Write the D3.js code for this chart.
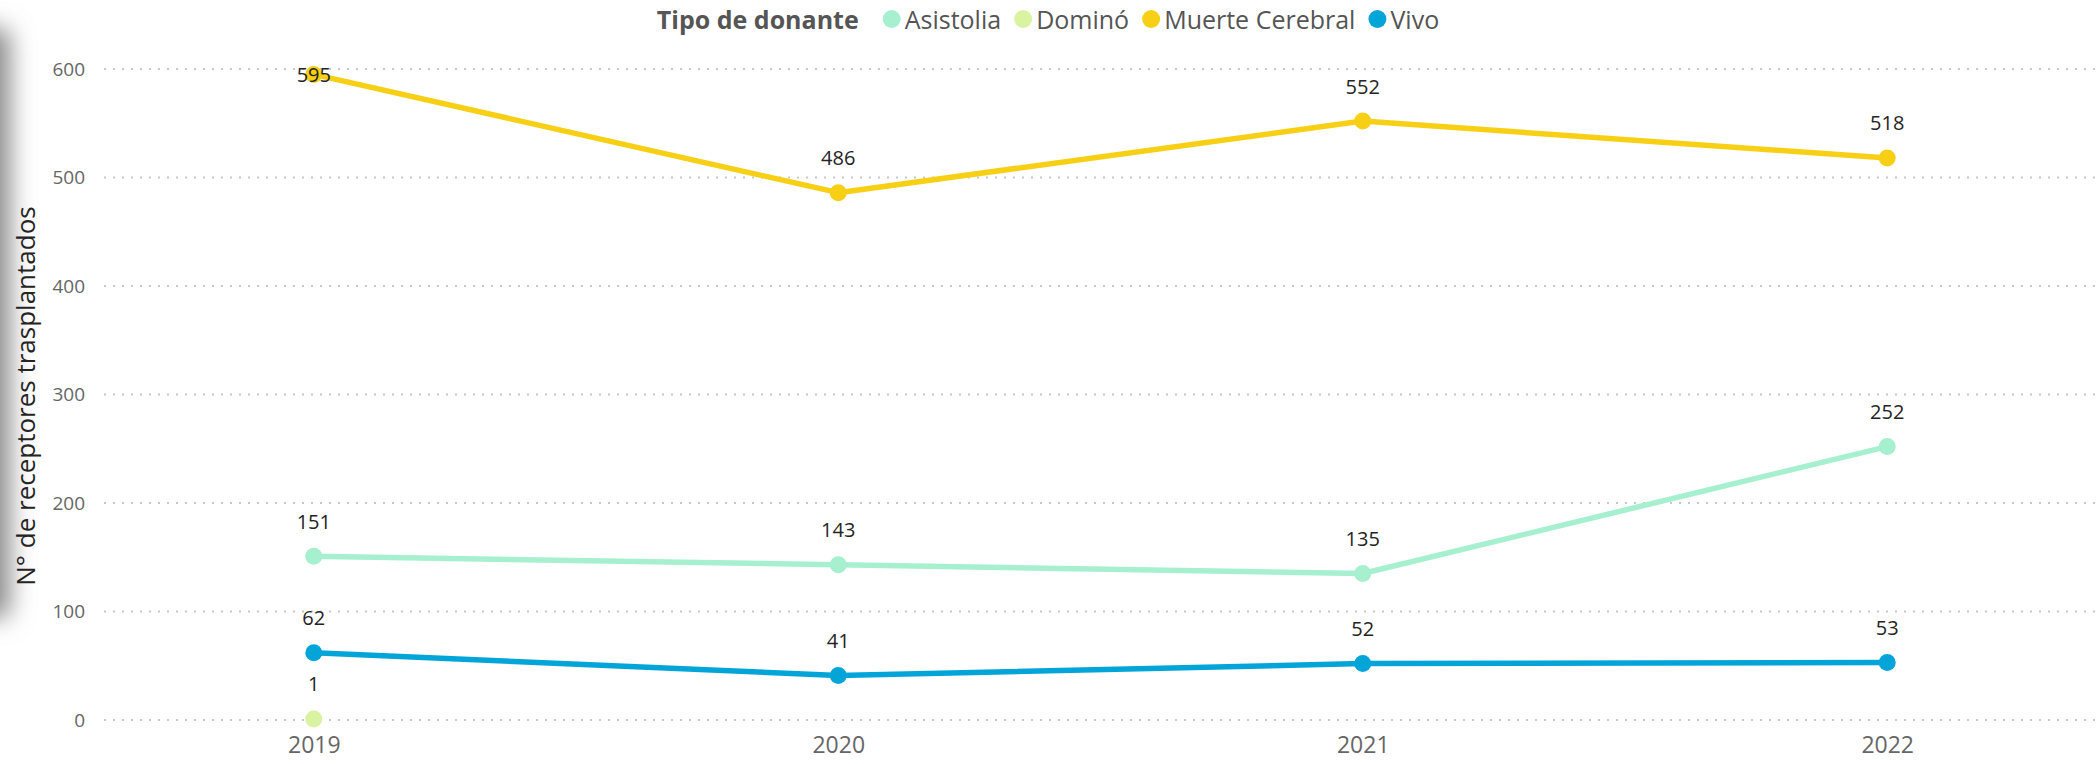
<!DOCTYPE html>
<html>
<head>
<meta charset="utf-8">
<script src="https://cdn.jsdelivr.net/npm/d3@7"></script>
<style>
  html, body { margin: 0; padding: 0; background: #fff; }
  svg { display: block; }
  text { font-family: "Segoe UI", "Open Sans", "Noto Sans", sans-serif; }
</style>
</head>
<body>
<svg id="chart" width="2097" height="764"></svg>
<script>
// ---- data ----
const years = ["2019", "2020", "2021", "2022"];
const seriesNames = ["Asistolia", "Dominó", "Muerte Cerebral", "Vivo"];
const asistolia = [151, 143, 135, 252];
const domino = [1, null, null, null];
const muerteCerebral = [595, 486, 552, 518];
const vivo = [62, 41, 52, 53];
const yTicks = [0, 100, 200, 300, 400, 500, 600];
const colors = ["#A6F0D0", "#D9F3A1", "#F7D016", "#03A5D9"];
const legendTitle = "Tipo de donante";
const yAxisTitle = "N° de receptores trasplantados";

const seriesValues = [asistolia, domino, muerteCerebral, vivo];
const series = seriesNames.map((name, i) => ({
  name, color: colors[i],
  points: years.map((yr, j) => ({ year: yr, value: seriesValues[i][j] })).filter(p => p.value !== null)
}));

const W = 2097, H = 764;
const svg = d3.select("#chart");

// left shadow
const defs = svg.append("defs");
const f = defs.append("filter").attr("id", "blur").attr("x", "-50%").attr("y", "-20%").attr("width", "200%").attr("height", "140%");
f.append("feGaussianBlur").attr("stdDeviation", 12);
svg.append("rect").attr("x", -60).attr("y", 28).attr("width", 70).attr("height", 590)
  .attr("rx", 10).attr("fill", "#8a8a8a").attr("filter", "url(#blur)");

const gridLeft = 104, gridRight = 2097;
const x = d3.scalePoint().domain(years).range([gridLeft, gridRight]).padding(0.4);
const y = d3.scaleLinear().domain([0, 600]).range([720, 69]);

// gridlines
svg.append("g").selectAll("line").data(yTicks).join("line")
  .attr("x1", gridLeft).attr("x2", gridRight)
  .attr("y1", d => y(d)).attr("y2", d => y(d))
  .attr("stroke", "#c8c8c8").attr("stroke-width", 2)
  .attr("stroke-dasharray", "2,7").attr("stroke-linecap", "butt");

// y axis
const yAxis = d3.axisLeft(y).tickValues(yTicks).tickSize(0).tickPadding(0);
const gy = svg.append("g").attr("transform", "translate(85,0)").call(yAxis);
gy.select(".domain").remove();
gy.selectAll("text").attr("font-size", 19).attr("fill", "#666666")
  .attr("font-family", "'Segoe UI','Open Sans',sans-serif");

// x axis
const xAxis = d3.axisBottom(x).tickSize(0).tickPadding(0);
const gx = svg.append("g").attr("transform", "translate(0,737)").call(xAxis);
gx.select(".domain").remove();
gx.selectAll("text").attr("font-size", 23).attr("fill", "#666666")
  .attr("font-family", "'Segoe UI','Open Sans',sans-serif");

// y axis title
svg.append("text")
  .attr("transform", `translate(25,${(200 + 592) / 2}) rotate(-90)`)
  .attr("text-anchor", "middle").attr("dominant-baseline", "central")
  .attr("font-size", 26).attr("fill", "#252423")
  .text(yAxisTitle);

// lines
const line = d3.line().x(d => x(d.year)).y(d => y(d.value));
const gSeries = svg.append("g").selectAll("g").data(series).join("g");
gSeries.append("path")
  .attr("d", d => line(d.points))
  .attr("fill", "none").attr("stroke", d => d.color)
  .attr("stroke-width", 5.5).attr("stroke-linejoin", "round");
gSeries.selectAll("circle").data(d => d.points.map(p => ({ ...p, color: d.color }))).join("circle")
  .attr("cx", d => x(d.year)).attr("cy", d => y(d.value)).attr("r", 8.5)
  .attr("fill", d => d.color);

// data labels
const labelOffset = 35;
const allPts = series.flatMap(s => s.points);
svg.append("g").selectAll("text").data(allPts).join("text")
  .attr("x", d => x(d.year))
  .attr("y", d => {
    const ly = y(d.value) - labelOffset;
    return ly < y.range()[1] ? y(d.value) : ly;
  })
  .attr("text-anchor", "middle").attr("dominant-baseline", "central")
  .attr("font-size", 20).attr("fill", "#252423")
  .text(d => d.value);

// legend
const lg = svg.append("g");
const legY = 19;
const tt = lg.append("text").attr("x", 0).attr("y", legY).attr("dominant-baseline", "central")
  .attr("font-size", 25).attr("font-weight", "bold").attr("fill", "#555555").text(legendTitle);
let cx = tt.node().getComputedTextLength() + 33;
series.forEach(s => {
  lg.append("circle").attr("cx", cx).attr("cy", legY).attr("r", 9).attr("fill", s.color);
  const t = lg.append("text").attr("x", cx + 13).attr("y", legY).attr("dominant-baseline", "central")
    .attr("font-size", 25).attr("fill", "#555555").text(s.name);
  cx = cx + 13 + t.node().getComputedTextLength() + 22;
});
const legW = cx - 22;
lg.attr("transform", `translate(${1048 - legW / 2},0)`);
</script>
</body>
</html>
